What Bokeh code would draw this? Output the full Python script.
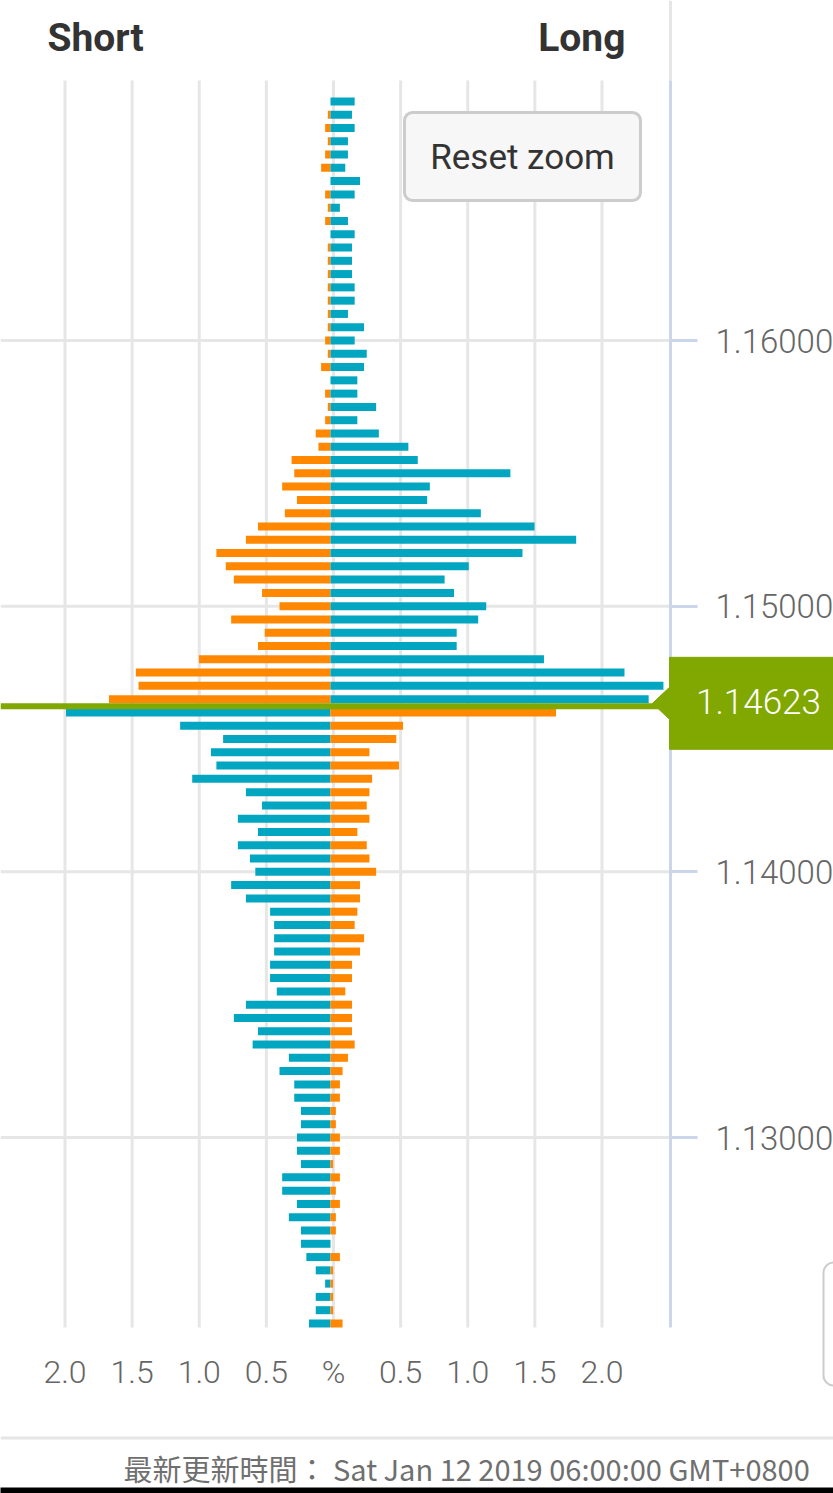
from bokeh.plotting import figure
from bokeh.models import (Range1d, FixedTicker, PrintfTickFormatter, Label, BoxAnnotation,
                          PolyAnnotation, Span, ColumnDataSource)
from bokeh.embed import file_html
from bokeh.resources import INLINE

# ---------------- data ----------------
price_levels = [
    1.1690, 1.1685, 1.1680, 1.1675, 1.1670, 1.1665, 1.1660, 1.1655, 1.1650, 1.1645,
    1.1640, 1.1635, 1.1630, 1.1625, 1.1620, 1.1615, 1.1610, 1.1605, 1.1600, 1.1595,
    1.1590, 1.1585, 1.1580, 1.1575, 1.1570, 1.1565, 1.1560, 1.1555, 1.1550, 1.1545,
    1.1540, 1.1535, 1.1530, 1.1525, 1.1520, 1.1515, 1.1510, 1.1505, 1.1500, 1.1495,
    1.1490, 1.1485, 1.1480, 1.1475, 1.1470, 1.1465, 1.1460, 1.1455, 1.1450, 1.1445,
    1.1440, 1.1435, 1.1430, 1.1425, 1.1420, 1.1415, 1.1410, 1.1405, 1.1400, 1.1395,
    1.1390, 1.1385, 1.1380, 1.1375, 1.1370, 1.1365, 1.1360, 1.1355, 1.1350, 1.1345,
    1.1340, 1.1335, 1.1330, 1.1325, 1.1320, 1.1315, 1.1310, 1.1305, 1.1300, 1.1295,
    1.1290, 1.1285, 1.1280, 1.1275, 1.1270, 1.1265, 1.1260, 1.1255, 1.1250, 1.1245,
    1.1240, 1.1235, 1.1230,
]

short_pct = [
    0.00, 0.02, 0.04, 0.02, 0.04, 0.07, 0.00, 0.04, 0.02, 0.04,
    0.00, 0.02, 0.02, 0.02, 0.02, 0.02, 0.02, 0.02, 0.04, 0.02,
    0.07, 0.00, 0.04, 0.02, 0.04, 0.11, 0.09, 0.29, 0.27, 0.36,
    0.25, 0.34, 0.54, 0.63, 0.85, 0.78, 0.72, 0.51, 0.38, 0.74,
    0.49, 0.54, 0.98, 1.45, 1.43, 1.65, 1.97, 1.12, 0.80, 0.89,
    0.85, 1.03, 0.63, 0.51, 0.69, 0.54, 0.69, 0.60, 0.56, 0.74,
    0.63, 0.45, 0.42, 0.42, 0.42, 0.45, 0.45, 0.40, 0.63, 0.72,
    0.54, 0.58, 0.31, 0.38, 0.27, 0.27, 0.22, 0.22, 0.25, 0.25,
    0.22, 0.36, 0.36, 0.25, 0.31, 0.22, 0.22, 0.18, 0.11, 0.04,
    0.11, 0.11, 0.16,
]

long_pct = [
    0.18, 0.16, 0.18, 0.13, 0.13, 0.11, 0.22, 0.18, 0.07, 0.13,
    0.18, 0.16, 0.16, 0.16, 0.18, 0.18, 0.13, 0.25, 0.18, 0.27,
    0.25, 0.20, 0.20, 0.34, 0.20, 0.36, 0.58, 0.65, 1.34, 0.74,
    0.72, 1.12, 1.52, 1.83, 1.43, 1.03, 0.85, 0.92, 1.16, 1.10,
    0.94, 0.94, 1.59, 2.19, 2.48, 2.37, 1.68, 0.54, 0.49, 0.29,
    0.51, 0.31, 0.29, 0.27, 0.29, 0.20, 0.27, 0.29, 0.34, 0.22,
    0.22, 0.20, 0.18, 0.25, 0.22, 0.16, 0.16, 0.11, 0.16, 0.16,
    0.16, 0.18, 0.13, 0.09, 0.07, 0.07, 0.04, 0.04, 0.07, 0.07,
    0.02, 0.07, 0.04, 0.07, 0.04, 0.04, 0.00, 0.07, 0.02, 0.02,
    0.02, 0.02, 0.09,
]

current_price = 1.14623
current_label = "1.14623"

x_ticks = [-2.0, -1.5, -1.0, -0.5, 0.0, 0.5, 1.0, 1.5, 2.0]
x_tick_labels = ["2.0", "1.5", "1.0", "0.5", "%", "0.5", "1.0", "1.5", "2.0"]
y_ticks = [1.13, 1.14, 1.15, 1.16]

header_left = "Short"
header_right = "Long"
button_text = "Reset zoom"
footer_text = "最新更新時間： Sat Jan 12 2019 06:00:00 GMT+0800"

# ---------------- style ----------------
TEAL = "#03a6c0"
ORANGE = "#ff8800"
GREEN = "#80a800"
GRID = "#e6e6e6"
AXIS = "#ccd6eb"
LABEL = "#666666"

W, H = 833, 1493
PLOT_RIGHT, PLOT_TOP, PLOT_BOTTOM = 670, 80, 1327

# layout mapping (canvas pixels -> data), used for ranges and decorations
X0_PX, X_SCALE = 333.0, 134.25
Y_REF_PX, Y_REF, Y_SCALE = 340.0, 1.16, 26567.0


def X(px):
    return (px - X0_PX) / X_SCALE


def Y(py):
    return Y_REF + (Y_REF_PX - py) / Y_SCALE


bar_base = X(330)          # bars start a few px left of the zero gridline
bar_height = 8 / Y_SCALE

cl = [ORANGE if pr > current_price else TEAL for pr in price_levels]
cr = [TEAL if pr > current_price else ORANGE for pr in price_levels]

src = ColumnDataSource(dict(
    y=price_levels,
    lleft=[bar_base - s for s in short_pct],
    rright=[bar_base + l for l in long_pct],
    cl=cl, cr=cr,
))

p = figure(
    frame_width=W, frame_height=H,
    min_border=0, min_border_left=0, min_border_right=0, min_border_top=0, min_border_bottom=0,
    x_range=Range1d(X(0), X(W)), y_range=Range1d(Y(H), Y(0)),
    x_axis_location="below", y_axis_location="right",
    output_backend="svg", toolbar_location=None,
    background_fill_color="white", border_fill_color="white",
)
p.outline_line_color = None
p.xgrid.visible = False
p.ygrid.visible = False

# grid lines (limited to the plot area)
p.segment(x0=x_ticks, x1=x_ticks, y0=[Y(PLOT_BOTTOM)] * len(x_ticks),
          y1=[Y(PLOT_TOP)] * len(x_ticks), line_color=GRID, line_width=3)
p.segment(x0=[X(0)] * len(y_ticks), x1=[X(PLOT_RIGHT)] * len(y_ticks), y0=y_ticks, y1=y_ticks,
          line_color=GRID, line_width=3)
# thin separator above the axis in the header
p.segment(x0=[X(PLOT_RIGHT)], x1=[X(PLOT_RIGHT)], y0=[Y(PLOT_TOP)], y1=[Y(0)],
          line_color=GRID, line_width=3)

# bars
p.hbar(y="y", left="lleft", right=bar_base, height=bar_height,
       fill_color="cl", line_color=None, source=src)
p.hbar(y="y", left=bar_base, right="rright", height=bar_height,
       fill_color="cr", line_color=None, source=src)

# x axis (percent)
xa = p.xaxis[0]
xa.fixed_location = Y(PLOT_BOTTOM)
xa.ticker = FixedTicker(ticks=x_ticks)
xa.major_label_overrides = {t: l for t, l in zip(x_ticks, x_tick_labels)}
xa.axis_line_color = None
xa.major_tick_line_color = None
xa.minor_tick_line_color = None
xa.major_label_standoff = 19
xa.major_label_text_font = "Roboto Light"
xa.major_label_text_font_size = "32px"
xa.major_label_text_color = LABEL

# y axis (price, right side)
ya = p.yaxis[0]
ya.fixed_location = X(PLOT_RIGHT)
ya.bounds = (Y(PLOT_BOTTOM), Y(PLOT_TOP))
ya.ticker = FixedTicker(ticks=y_ticks)
ya.formatter = PrintfTickFormatter(format="%.5f")
ya.axis_line_color = AXIS
ya.axis_line_width = 3
ya.major_tick_line_color = AXIS
ya.major_tick_line_width = 3
ya.major_tick_out = 27
ya.major_tick_in = 0
ya.minor_tick_line_color = None
ya.major_label_standoff = 18
ya.major_label_text_font = "Roboto Light"
ya.major_label_text_font_size = "33px"
ya.major_label_text_color = LABEL

# current price line and tag
p.add_layout(Span(location=current_price, dimension="width", line_color=GREEN, line_width=6))
tag_c = current_price + 3 / Y_SCALE
half = 46 / Y_SCALE
arrow = 16 / Y_SCALE
p.add_layout(PolyAnnotation(
    xs=[X(652), X(669), X(669), X(845), X(845), X(669), X(669)],
    ys=[tag_c, tag_c + arrow, tag_c + half, tag_c + half,
        tag_c - half, tag_c - half, tag_c - arrow],
    fill_color=GREEN, fill_alpha=1.0, line_color=GREEN, line_alpha=1.0, line_width=1,
))
p.add_layout(Label(x=X(758), y=tag_c + 2 / Y_SCALE, text=current_label, text_align="center",
                   text_baseline="middle", text_color="white", text_font_size="35px",
                   text_font="Roboto Light"))

# header
p.add_layout(Label(x=X(47), y=Y(37), text=header_left, text_align="left",
                   text_baseline="middle", text_color="#333333",
                   text_font="Roboto", text_font_style="bold", text_font_size="39px"))
p.add_layout(Label(x=X(625), y=Y(37), text=header_right, text_align="right",
                   text_baseline="middle", text_color="#333333",
                   text_font="Roboto", text_font_style="bold", text_font_size="39px"))

# reset zoom button
p.add_layout(BoxAnnotation(left=X(404), right=X(640), top=Y(112), bottom=Y(200),
                           fill_color="#f7f7f7", fill_alpha=1.0, line_color="#cccccc",
                           line_alpha=1.0, line_width=3, border_radius=8))
p.add_layout(Label(x=X(522), y=Y(157), text=button_text, text_align="center",
                   text_baseline="middle", text_color="#333333", text_font_size="35px",
                   text_font="Roboto"))

# partially visible box at right edge
p.add_layout(BoxAnnotation(left=X(823), right=X(870), top=Y(1262), bottom=Y(1385),
                           fill_color="white", fill_alpha=1.0, line_color="#cccccc",
                           line_alpha=1.0, line_width=2, border_radius=10))

# footer
p.add_layout(BoxAnnotation(left=X(0), right=X(W + 10), top=Y(1436), bottom=Y(1439),
                           fill_color=GRID, fill_alpha=1.0, line_color=None))
p.add_layout(BoxAnnotation(left=X(-10), right=X(W + 10), top=Y(1487), bottom=Y(H + 10),
                           fill_color="black", fill_alpha=1.0, line_color=None))
p.add_layout(Label(x=X(123), y=Y(1467), text=footer_text, text_align="left",
                   text_baseline="middle", text_color="#6f6f6f", text_font_size="29px",
                   text_font="Noto Sans CJK TC"))

open("out.html", "w").write(file_html(p, INLINE))
